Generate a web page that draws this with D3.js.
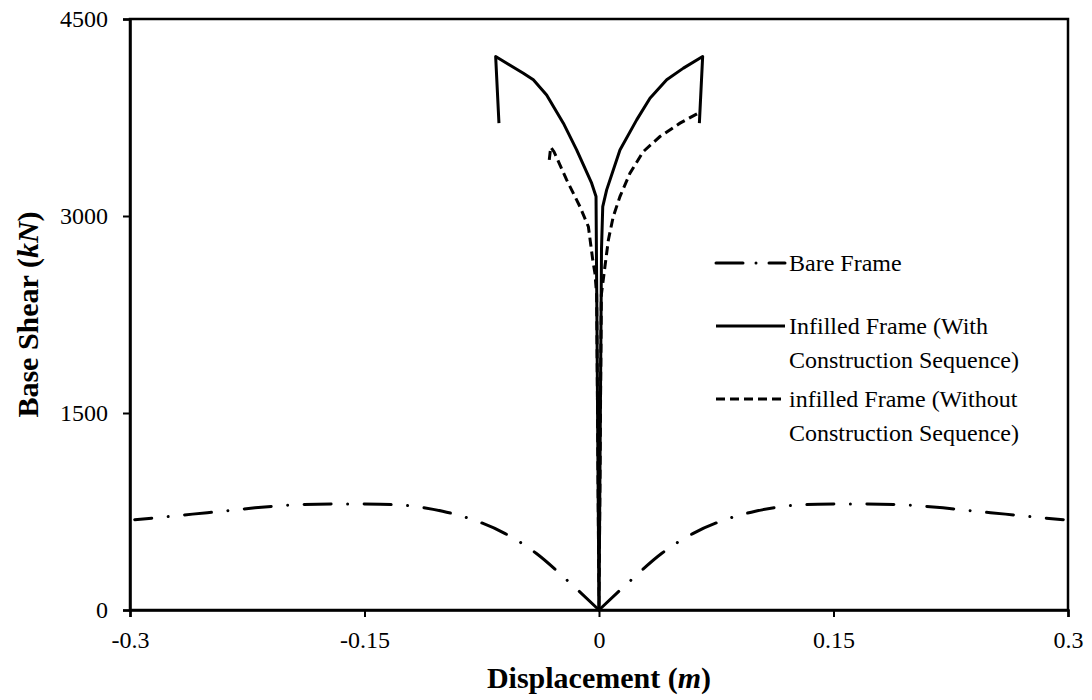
<!DOCTYPE html>
<html>
<head>
<meta charset="utf-8">
<script src="https://cdn.jsdelivr.net/npm/d3@7"></script>
<style>
  html, body { margin: 0; padding: 0; background: #fff; }
  svg { display: block; }
  text { font-family: "Liberation Serif", "Times New Roman", serif; fill: #000; }
</style>
</head>
<body>
<svg id="chart" width="1092" height="700"></svg>
<script>
// Pushover curves: base shear vs roof displacement
const xTicks = [-0.3, -0.15, 0, 0.15, 0.3];
const yTicks = [0, 1500, 3000, 4500];

// Bare frame, pushed in the negative and positive directions (m, kN)
const bareDispNeg  = [0, -0.02, -0.04, -0.06, -0.08, -0.10, -0.12, -0.14, -0.16, -0.18, -0.20, -0.22, -0.24, -0.26, -0.28, -0.297];
const bareShearNeg = [0, 222, 430, 582, 685, 752, 792, 805, 808, 806, 797, 778, 753, 730, 706, 688];
const bareDispPos  = [0, 0.02, 0.04, 0.06, 0.08, 0.10, 0.12, 0.14, 0.16, 0.18, 0.20, 0.22, 0.24, 0.26, 0.28, 0.297];
const bareShearPos = [0, 222, 430, 582, 685, 752, 792, 805, 808, 806, 797, 778, 753, 730, 706, 688];

// Infilled frame, with construction sequence
const withCsDisp  = [-0.064, -0.0661, -0.0484, -0.042, -0.0335, -0.0228, -0.0143, -0.0047, -0.0019, 0, 0.0016, 0.0024, 0.0049, 0.0134, 0.0241, 0.0326, 0.0433, 0.054, 0.0663, 0.0642];
const withCsShear = [3707, 4214, 4087, 4037, 3922, 3707, 3503, 3250, 3148, 0, 2750, 3072, 3199, 3503, 3732, 3897, 4037, 4126, 4214, 3707];

// Infilled frame, without construction sequence
const withoutCsDisp  = [-0.0318, -0.0309, -0.0288, -0.0207, -0.0122, -0.0068, -0.004, -0.0026, -0.0015, 0, 0.0015, 0.0038, 0.006, 0.0091, 0.0134, 0.0198, 0.0283, 0.039, 0.0518, 0.0635];
const withoutCsShear = [3427, 3524, 3490, 3275, 3072, 2919, 2666, 2564, 2400, 0, 2400, 2615, 2818, 2995, 3148, 3326, 3490, 3605, 3707, 3783];

const legendLabels = [
  ["Bare Frame"],
  ["Infilled Frame (With", "Construction Sequence)"],
  ["infilled Frame (Without", "Construction Sequence)"]
];

const svg = d3.select("#chart");
const plotL = 130, plotR = 1068, plotT = 19, plotB = 610;
const serif = '"Liberation Serif", "Times New Roman", serif';

const x = d3.scaleLinear().domain([-0.3, 0.3]).range([plotL, plotR]);
const y = d3.scaleLinear().domain([0, 4500]).range([plotB, plotT]);

const zip = (xs, ys) => xs.map((d, i) => [d, ys[i]]);
const lineSmooth = d3.line().x(d => x(d[0])).y(d => y(d[1])).curve(d3.curveMonotoneX);
const lineStraight = d3.line().x(d => x(d[0])).y(d => y(d[1]));

const bareStyle = { dash: "27,16.5,0.01,16.5", cap: "round" };
const dashedStyle = { dash: "9,5", cap: "butt" };

// Plot frame
svg.append("rect")
  .attr("x", plotL).attr("y", plotT)
  .attr("width", plotR - plotL).attr("height", plotB - plotT)
  .attr("fill", "none").attr("stroke", "#000").attr("stroke-width", 2.5);

// Axes
const xAxis = d3.axisBottom(x).tickValues(xTicks).tickSize(7).tickPadding(14)
  .tickFormat(d => d === 0 ? "0" : String(d));
const gx = svg.append("g").attr("transform", `translate(0,${plotB})`).call(xAxis);
const yAxis = d3.axisLeft(y).tickValues(yTicks).tickSize(7).tickPadding(15)
  .tickFormat(d3.format("d"));
const gy = svg.append("g").attr("transform", `translate(${plotL},0)`).call(yAxis);
[gx, gy].forEach(g => {
  g.select(".domain").attr("stroke", "#000").attr("stroke-width", 2.5);
  g.selectAll(".tick line").attr("stroke", "#000").attr("stroke-width", 2);
  g.selectAll(".tick text")
    .style("font-family", serif)
    .style("font-size", "24px").attr("fill", "#000");
});

// Bare frame, each direction drawn from the origin outward
[zip(bareDispNeg, bareShearNeg), zip(bareDispPos, bareShearPos)].forEach(pts => {
  svg.append("path").attr("d", lineSmooth(pts))
    .attr("fill", "none").attr("stroke", "#000").attr("stroke-width", 3)
    .attr("stroke-dasharray", bareStyle.dash).attr("stroke-linecap", bareStyle.cap);
});

// Infilled frame, with construction sequence
svg.append("path").attr("d", lineStraight(zip(withCsDisp, withCsShear)))
  .attr("fill", "none").attr("stroke", "#000").attr("stroke-width", 3)
  .attr("stroke-linejoin", "round");

// Infilled frame, without construction sequence
svg.append("path").attr("d", lineStraight(zip(withoutCsDisp, withoutCsShear)))
  .attr("fill", "none").attr("stroke", "#000").attr("stroke-width", 3)
  .attr("stroke-dasharray", dashedStyle.dash);

// Legend
const legendX0 = 716, legendX1 = 785, legendTextX = 789;
const legendRows = [263, 326, 399];
const legendStyles = [
  { dash: "27,13,0.01,13", cap: "round" },
  { dash: null, cap: "butt" },
  dashedStyle
];
legendLabels.forEach((lines, i) => {
  const yy = legendRows[i];
  const p = svg.append("line")
    .attr("x1", legendX0).attr("x2", legendX1).attr("y1", yy).attr("y2", yy)
    .attr("stroke", "#000").attr("stroke-width", 3)
    .attr("stroke-linecap", legendStyles[i].cap);
  if (legendStyles[i].dash) p.attr("stroke-dasharray", legendStyles[i].dash);
  const t = svg.append("text").attr("x", legendTextX).attr("y", yy + 8)
    .style("font-size", "24px");
  lines.forEach((s, j) => {
    t.append("tspan").attr("x", legendTextX).attr("dy", j === 0 ? 0 : 34).text(s);
  });
});

// Axis titles
const xt = svg.append("text").attr("x", (plotL + plotR) / 2).attr("y", 688)
  .attr("text-anchor", "middle").style("font-size", "30px").style("font-weight", "bold");
xt.append("tspan").text("Displacement (");
xt.append("tspan").style("font-style", "italic").text("m");
xt.append("tspan").text(")");

const yt = svg.append("text")
  .attr("transform", `translate(38,${(plotT + plotB) / 2}) rotate(-90)`)
  .attr("text-anchor", "middle").style("font-size", "30px").style("font-weight", "bold");
yt.append("tspan").text("Base Shear (");
yt.append("tspan").style("font-style", "italic").text("kN");
yt.append("tspan").text(")");
</script>
</body>
</html>
